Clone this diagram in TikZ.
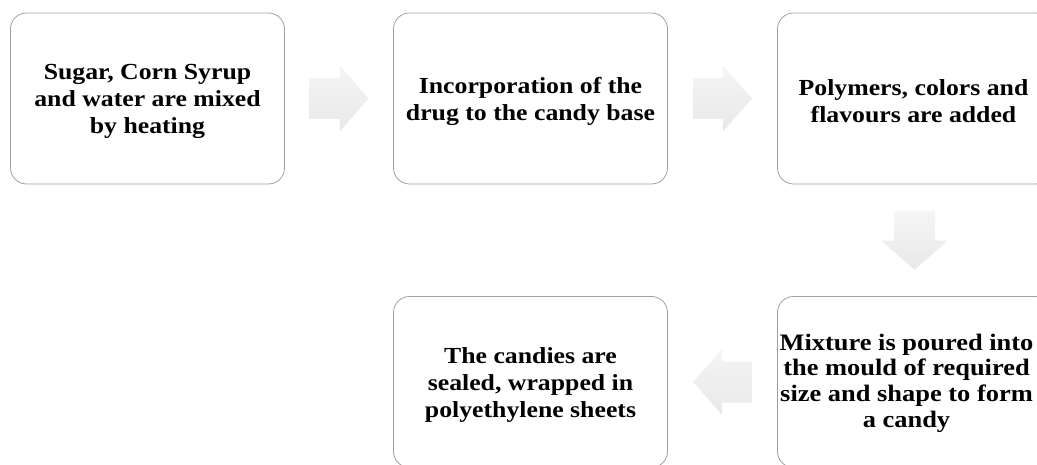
\documentclass[tikz,border=0pt]{standalone}
\usepackage{fontspec}
\setmainfont{Liberation Serif}
\newfontfamily\widserif[FakeStretch=1.12]{Liberation Serif}
\usetikzlibrary{calc}
\tikzset{
  stepbox/.style={draw=gray!75, line width=0.8pt, rounded corners=16pt, fill=white,
    minimum width=274pt, minimum height=171pt, inner sep=0pt},
  steptext/.style={inner sep=0pt, align=center,
    font=\widserif\fontsize{23}{27}\selectfont\bfseries},
  smalltext/.style={font=\widserif\fontsize{23.6}{25.7}\selectfont\bfseries},
  pics/blockarrow/.style={code={
    \shade[top color=gray!8, bottom color=gray!18]
      (-29.5,-20.5) -- (0.5,-20.5) -- (0.5,-33) -- (29.5,0) -- (0.5,33)
      -- (0.5,20.5) -- (-29.5,20.5) -- cycle;
  }}
}
\begin{document}
\begin{tikzpicture}[x=1pt,y=1pt]
\useasboundingbox (0,0) rectangle (1037,464);
\clip (0,0) rectangle (1037,464);
\node[stepbox] (b1) at (147.5,365.5) {};
\node[stepbox] (b2) at (530.5,365.5) {};
\node[stepbox] (b3) at (914.5,365.5) {};
\node[stepbox] (b4) at (914.5,82) {};
\node[stepbox] (b5) at (530.5,82) {};
\node[steptext] (t1) at ($(b1)+(0,-3)$) {Sugar, Corn Syrup\\and water are mixed\\by heating};
\node[steptext] (t2) at ($(b2)+(0,-3)$) {Incorporation of the\\drug to the candy base};
\node[steptext] (t3) at ($(b3)+(-1,-3)$) {Polymers, colors and\\flavours are added};
\node[steptext, smalltext] (t4) at ($(b4)+(-8,-1)$) {Mixture is poured into\\the mould of required\\size and shape to form\\a candy};
\node[steptext] (t5) at ($(b5)+(0,-3)$) {The candies are\\sealed, wrapped in\\polyethylene sheets};
\coordinate (m1) at ($(b1.east)!0.5!(b2.west)$);
\coordinate (m2) at ($(b2.east)!0.5!(b3.west)$);
\coordinate (m3) at ($(b3.south)!0.5!(b4.north)$);
\coordinate (m4) at ($(b4.west)!0.5!(b5.east)$);
\pic at (m1) {blockarrow};
\pic at (m2) {blockarrow};
\pic[rotate=270] at (m3) {blockarrow};
\pic[rotate=180] at (m4) {blockarrow};
\end{tikzpicture}
\end{document}
